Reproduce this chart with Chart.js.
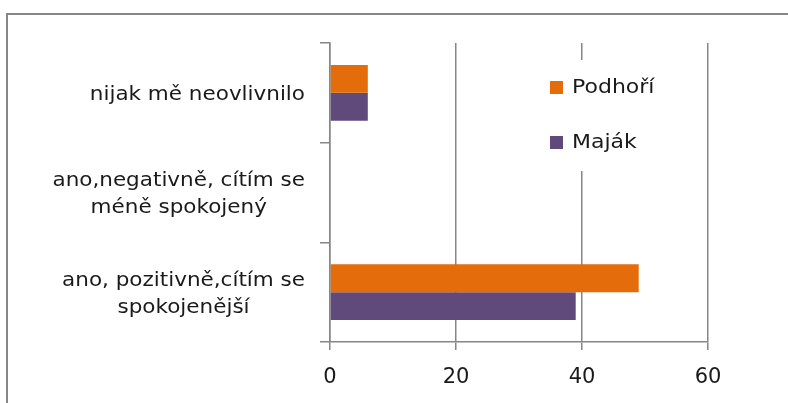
<!DOCTYPE html>
<html>
<head>
<meta charset="utf-8">
<script src="https://cdn.jsdelivr.net/npm/chart.js@4"></script>
<style>
    html, body { margin: 0; padding: 0; background: #fff; overflow: hidden; }
    #wrap { position: relative; width: 788px; height: 403px; }
    #frame {
        position: absolute; left: 6px; top: 13px; right: -10px; bottom: -10px;
        border-top: 2px solid #868686; border-left: 2px solid #868686;
    }
    #chart { position: absolute; left: 0; top: 0; }
</style>
</head>
<body>
<div id="wrap">
    <div id="frame"></div>
    <canvas id="chart" width="788" height="403"></canvas>
</div>
<script>
// categories, top to bottom
const categories = [
    ['nijak mě neovlivnilo'],
    ['ano,negativně, cítím se', 'méně spokojený'],
    ['ano, pozitivně,cítím se', 'spokojenější']
];
const seriesNames = ['Podhoří', 'Maják'];
const podhori = [6, 0, 49];
const majak = [6, 0, 39];
const xTicks = [0, 20, 40, 60];

const colors = ['#e46c0a', '#604a7b'];
const gridColor = '#868686';
const textColor = '#1a1a1a';
const fontFamily = '"DejaVu Sans", sans-serif';
const stretch = 1.075; // source text is a little wider than DejaVu

// draws text slightly stretched horizontally
function wideText(ctx, text, x, y, sx) {
    ctx.save();
    ctx.translate(x, y);
    ctx.scale(sx, 1);
    ctx.fillText(text, 0, 0);
    ctx.restore();
}

// category labels: right-aligned block, lines centered to each other
const categoryLabels = {
    id: 'categoryLabels',
    afterDraw(chart) {
        const ctx = chart.ctx;
        const y = chart.scales.y;
        const right = chart.chartArea.left - 25;
        const lineH = 27;
        ctx.save();
        ctx.font = '20px ' + fontFamily;
        ctx.fillStyle = textColor;
        ctx.textAlign = 'center';
        ctx.textBaseline = 'middle';
        categories.forEach((lines, i) => {
            const w = Math.max(...lines.map(l => ctx.measureText(l).width)) * stretch;
            const cx = right - w / 2;
            const cy = y.getPixelForValue(i);
            const y0 = cy - (lines.length - 1) * lineH / 2;
            lines.forEach((l, j) => wideText(ctx, l, cx, y0 + j * lineH + 2, stretch));
        });
        ctx.restore();
    }
};

// legend sits inside the plot, on a white box over the gridlines
const innerLegend = {
    id: 'innerLegend',
    afterDraw(chart) {
        const ctx = chart.ctx;
        const x = chart.scales.x;
        const left = x.getPixelForValue(40) - 42;
        const top = chart.chartArea.top + 17;
        ctx.save();
        ctx.fillStyle = '#fff';
        ctx.fillRect(left, top, 160, 111);
        ctx.font = '20px ' + fontFamily;
        ctx.textBaseline = 'middle';
        ctx.textAlign = 'left';
        seriesNames.forEach((name, i) => {
            const sy = top + 21 + i * 55;
            ctx.fillStyle = colors[i];
            ctx.fillRect(left + 10, sy, 13, 13);
            ctx.fillStyle = textColor;
            wideText(ctx, name, left + 32, sy + 7, 1.1);
        });
        ctx.restore();
    }
};

new Chart(document.getElementById('chart'), {
    type: 'bar',
    data: {
        labels: categories,
        datasets: [
            { label: seriesNames[0], data: podhori, backgroundColor: colors[0] },
            { label: seriesNames[1], data: majak, backgroundColor: colors[1] }
        ]
    },
    options: {
        indexAxis: 'y',
        responsive: false,
        animation: false,
        devicePixelRatio: 1,
        categoryPercentage: 0.56,
        barPercentage: 1.0,
        layout: { padding: { left: 0, top: 43, right: 80, bottom: 0 } },
        plugins: {
            legend: { display: false },
            tooltip: { enabled: false }
        },
        scales: {
            x: {
                min: xTicks[0],
                max: xTicks[xTicks.length - 1],
                afterBuildTicks: (s) => { s.ticks = xTicks.map(v => ({ value: v })); },
                afterFit: (s) => { s.height = 61; },
                grid: { color: gridColor, lineWidth: 1.5, tickLength: 8 },
                border: { color: gridColor, width: 1.5 },
                ticks: {
                    color: textColor,
                    font: { family: fontFamily, size: 21 },
                    padding: 15
                }
            },
            y: {
                afterFit: (s) => { s.width = 330; },
                grid: { drawOnChartArea: false, offset: true, color: gridColor, lineWidth: 1.5, tickLength: 10 },
                border: { color: gridColor, width: 1.5 },
                ticks: { color: 'rgba(0,0,0,0)', callback: () => '' }
            }
        }
    },
    plugins: [categoryLabels, innerLegend]
});
</script>
</body>
</html>
